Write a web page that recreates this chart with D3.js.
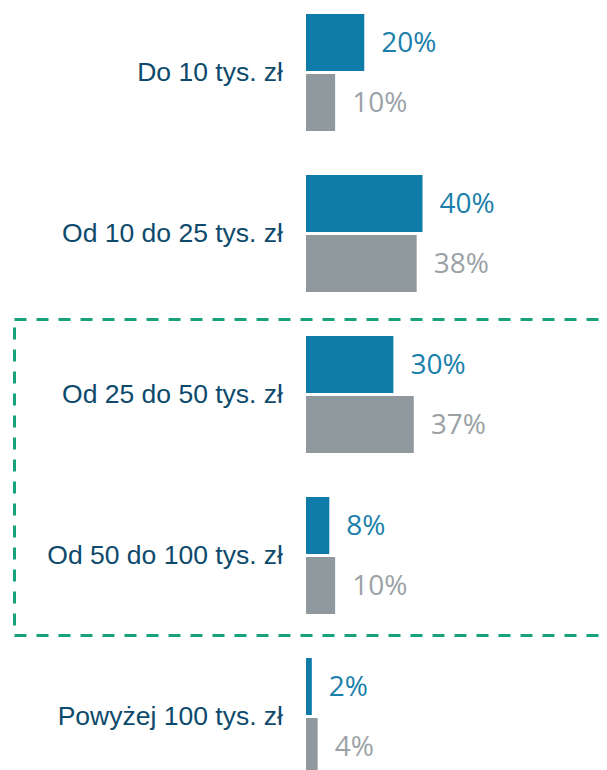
<!DOCTYPE html>
<html>
<head>
<meta charset="utf-8">
<script src="https://cdn.jsdelivr.net/npm/d3@7"></script>
<style>
  body { margin: 0; background: #fff; }
  svg { display: block; }
</style>
</head>
<body>
<svg width="607" height="770"></svg>
<script>
var categories = ["Do 10 tys. zł", "Od 10 do 25 tys. zł", "Od 25 do 50 tys. zł", "Od 50 do 100 tys. zł", "Powyżej 100 tys. zł"];
var series = ["Seria A", "Seria B"];
var valuesA = [20, 40, 30, 8, 2];
var valuesB = [10, 38, 37, 10, 4];

var colors = {"Seria A": "#0f7ba8", "Seria B": "#8f989d"};
var labelColors = {"Seria A": "#1a80ab", "Seria B": "#9ba2a6"};

var svg = d3.select("svg");

var data = categories.map(function(c, i) {
  return {category: c, values: [
    {series: series[0], value: valuesA[i]},
    {series: series[1], value: valuesB[i]}
  ]};
});

var y = d3.scaleBand().domain(categories).range([14, 775]).paddingInner(0.2733).paddingOuter(0);
var y1 = d3.scaleBand().domain(series).range([0, y.bandwidth()]).paddingInner(0.05);
var x = d3.scaleLinear().domain([0, 40]).range([306, 422.5]);

// ramka przerywana
svg.append("rect")
    .attr("x", 14.5)
    .attr("y", 319.5)
    .attr("width", 640)
    .attr("height", 316)
    .attr("fill", "none")
    .attr("stroke", "#17a27c")
    .attr("stroke-width", 3)
    .attr("stroke-dasharray", "12,10");

var g = svg.selectAll(".group")
  .data(data)
  .enter().append("g")
    .attr("class", "group")
    .attr("transform", function(d) { return "translate(0," + y(d.category) + ")"; });

g.append("text")
    .attr("x", 283)
    .attr("y", y.bandwidth() / 2 + 2)
    .attr("text-anchor", "end")
    .attr("dominant-baseline", "middle")
    .attr("font-family", "Liberation Sans, Arial, sans-serif")
    .attr("font-size", 26.5)
    .attr("fill", "#0d4a6c")
    .text(function(d) { return d.category; });

g.selectAll("rect")
  .data(function(d) { return d.values; })
  .enter().append("rect")
    .attr("x", x(0))
    .attr("y", function(d) { return y1(d.series); })
    .attr("width", function(d) { return x(d.value) - x(0); })
    .attr("height", y1.bandwidth())
    .attr("fill", function(d) { return colors[d.series]; });

g.selectAll(".val")
  .data(function(d) { return d.values; })
  .enter().append("text")
    .attr("class", "val")
    .attr("x", function(d) { return x(d.value) + 17; })
    .attr("y", function(d) { return y1(d.series) + y1.bandwidth() / 2 + 2.5; })
    .attr("dominant-baseline", "middle")
    .attr("font-family", "Open Sans, Noto Sans, sans-serif")
    .attr("font-size", 28)
    .attr("fill", function(d) { return labelColors[d.series]; })
    .text(function(d) { return d.value + "%"; });
</script>
</body>
</html>
